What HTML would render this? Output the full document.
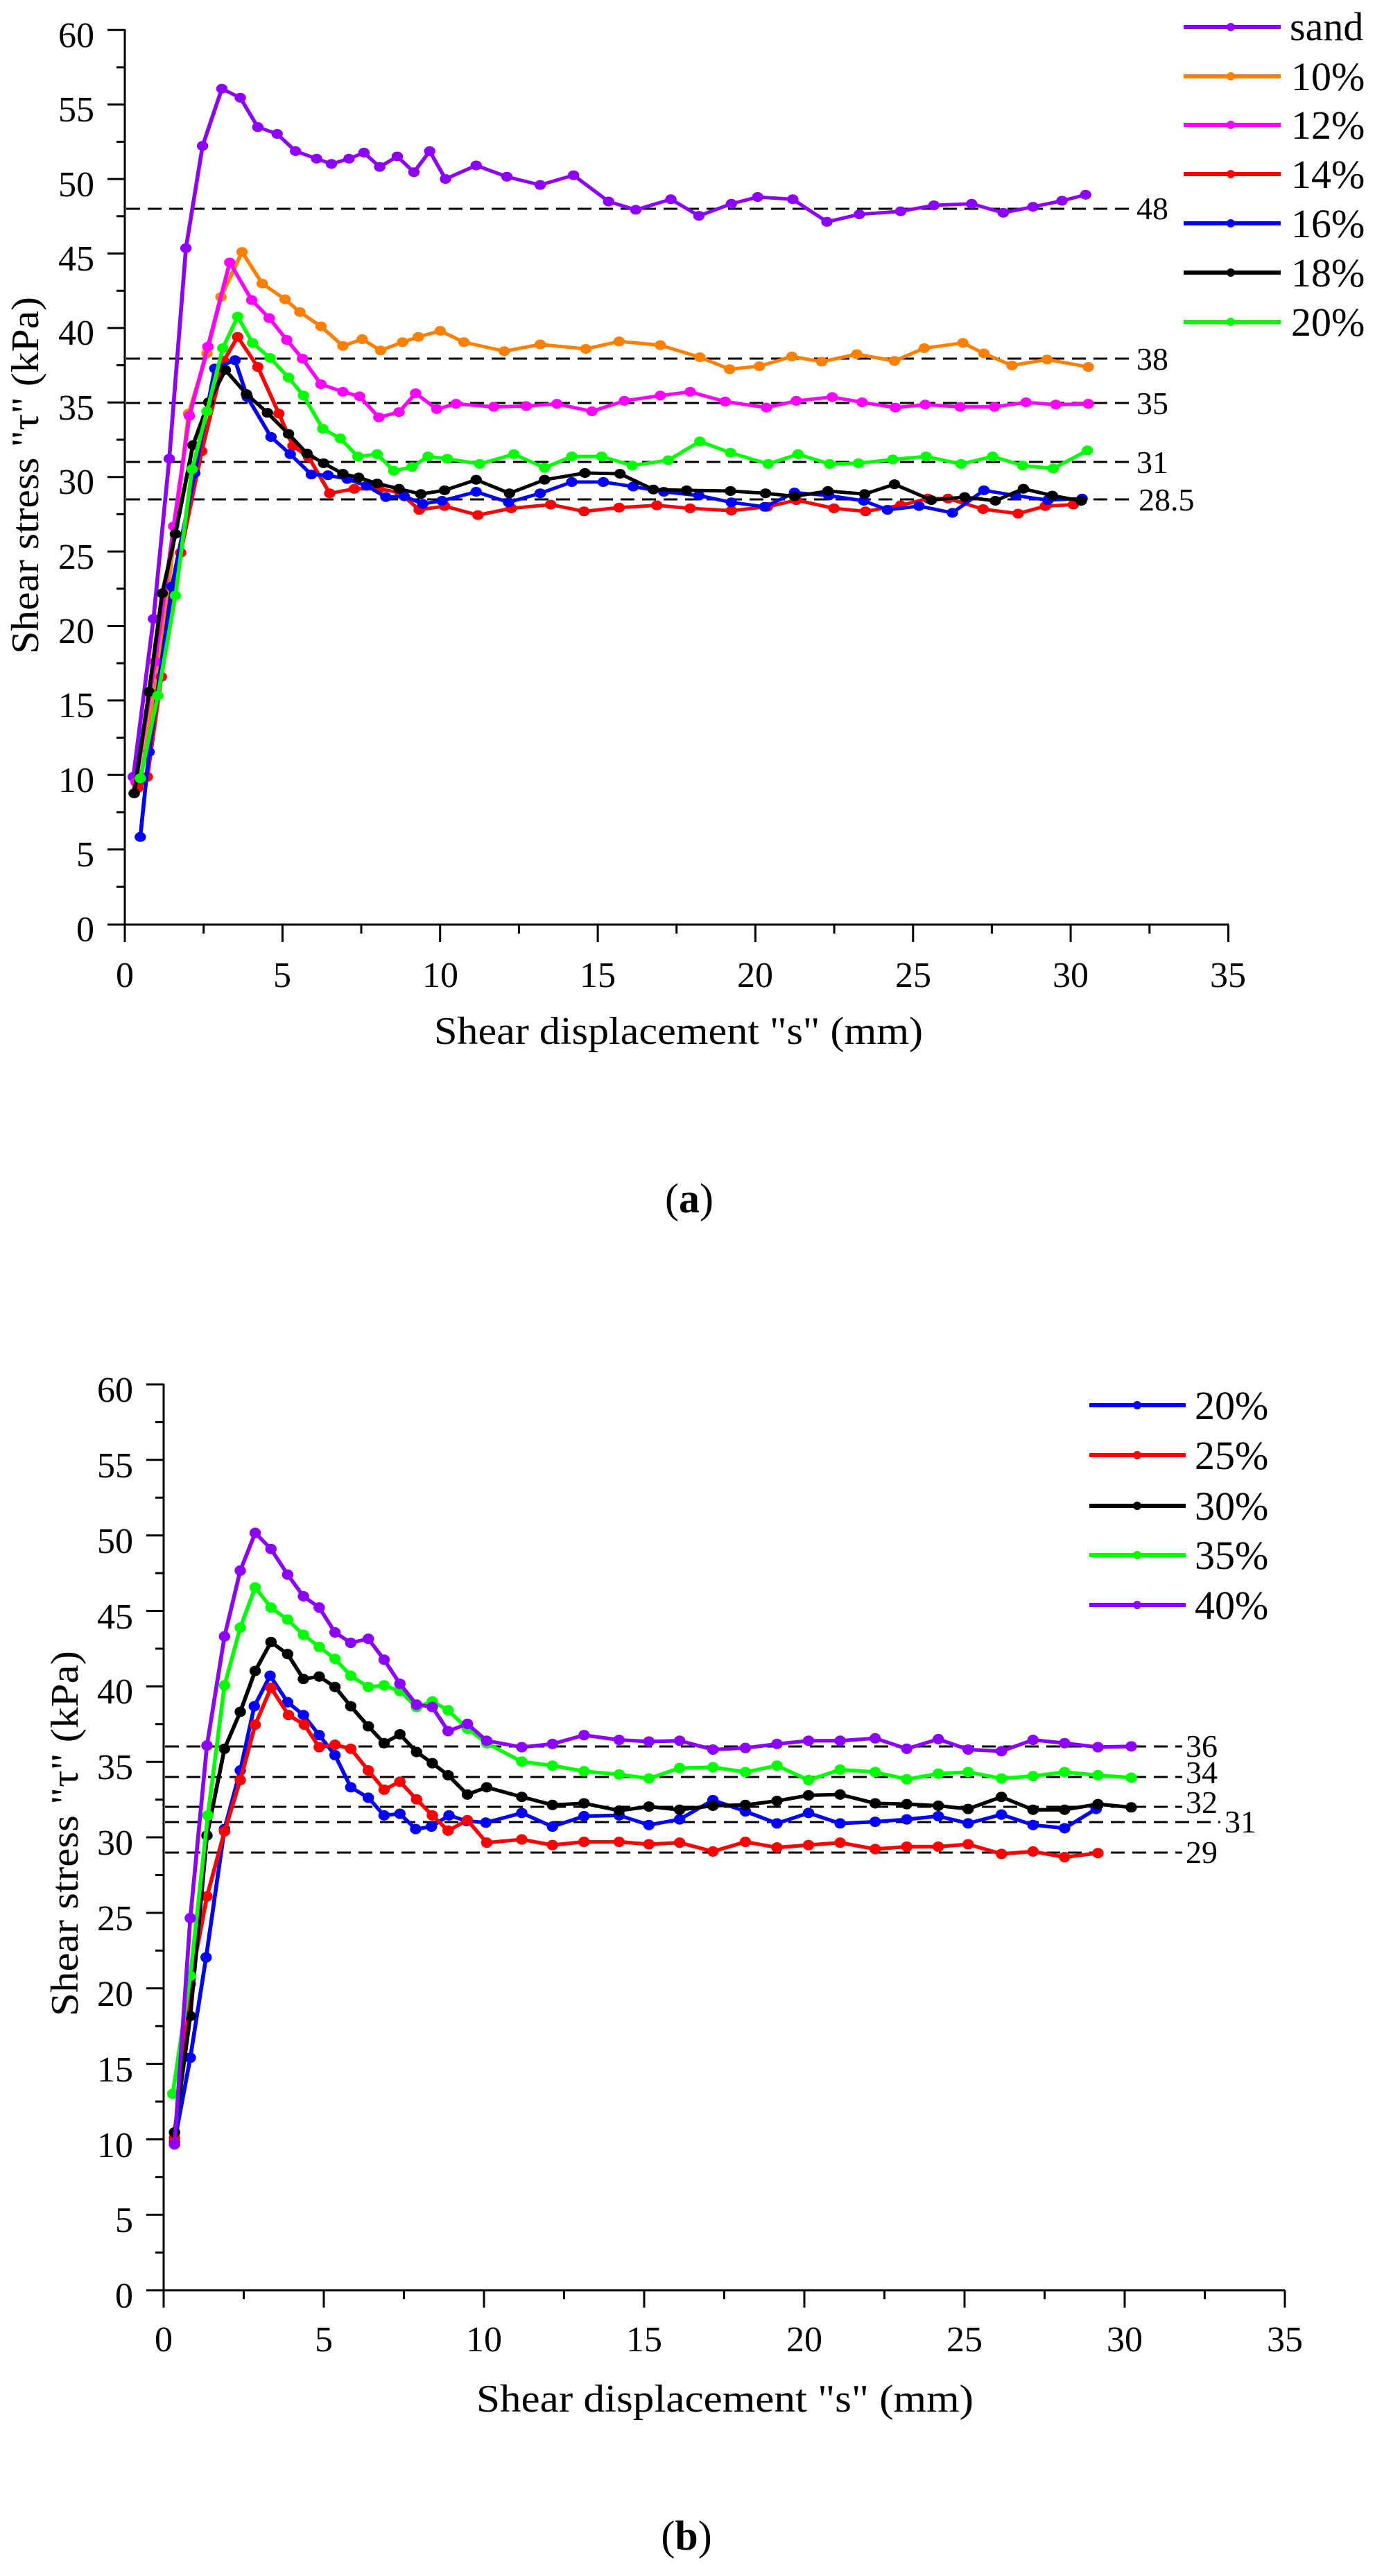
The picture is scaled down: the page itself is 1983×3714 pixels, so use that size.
<!DOCTYPE html>
<html><head><meta charset="utf-8"><style>
html,body{margin:0;padding:0;background:#fff}
svg{display:block}
svg text{font-family:"Liberation Serif","DejaVu Serif",serif;fill:#000}
</style></head><body>
<svg width="1983" height="3714" viewBox="0 0 1983 3714" xmlns="http://www.w3.org/2000/svg" font-family="Liberation Serif, serif">
<defs>
<marker id="mP" markerUnits="userSpaceOnUse" markerWidth="16" markerHeight="16" refX="8" refY="8" viewBox="0 0 16 16"><circle cx="8" cy="8" r="6.5" fill="#8B00FF"/></marker>
<marker id="mO" markerUnits="userSpaceOnUse" markerWidth="16" markerHeight="16" refX="8" refY="8" viewBox="0 0 16 16"><circle cx="8" cy="8" r="6.5" fill="#FF8000"/></marker>
<marker id="mM" markerUnits="userSpaceOnUse" markerWidth="16" markerHeight="16" refX="8" refY="8" viewBox="0 0 16 16"><circle cx="8" cy="8" r="6.5" fill="#FF00FF"/></marker>
<marker id="mR" markerUnits="userSpaceOnUse" markerWidth="16" markerHeight="16" refX="8" refY="8" viewBox="0 0 16 16"><circle cx="8" cy="8" r="6.5" fill="#FF0000"/></marker>
<marker id="mB" markerUnits="userSpaceOnUse" markerWidth="16" markerHeight="16" refX="8" refY="8" viewBox="0 0 16 16"><circle cx="8" cy="8" r="6.5" fill="#0000FF"/></marker>
<marker id="mK" markerUnits="userSpaceOnUse" markerWidth="16" markerHeight="16" refX="8" refY="8" viewBox="0 0 16 16"><circle cx="8" cy="8" r="6.5" fill="#000"/></marker>
<marker id="mG" markerUnits="userSpaceOnUse" markerWidth="16" markerHeight="16" refX="8" refY="8" viewBox="0 0 16 16"><circle cx="8" cy="8" r="6.5" fill="#00FF00"/></marker>
</defs>

<!-- ================= CHART A ================= -->
<g stroke="#000" stroke-width="3" fill="none">
<line x1="180" y1="42" x2="180" y2="1333"/>
<line x1="155" y1="1333" x2="1772" y2="1333"/>
<path d="M155 43.3H180 M155 150.7H180 M155 258.1H180 M155 365.5H180 M155 472.9H180 M155 580.3H180 M155 687.7H180 M155 795.1H180 M155 902.5H180 M155 1009.9H180 M155 1117.3H180 M155 1224.7H180
M168 97H180 M168 204.4H180 M168 311.8H180 M168 419.2H180 M168 526.6H180 M168 634H180 M168 741.4H180 M168 848.8H180 M168 956.2H180 M168 1063.6H180 M168 1171H180 M168 1278.4H180"/>
<path d="M180 1333V1358 M407.4 1333V1358 M634.7 1333V1358 M862.1 1333V1358 M1089.4 1333V1358 M1316.8 1333V1358 M1544.1 1333V1358 M1771.5 1333V1358
M293.7 1333V1346 M521 1333V1346 M748.4 1333V1346 M975.7 1333V1346 M1203.1 1333V1346 M1430.4 1333V1346 M1657.8 1333V1346"/>
</g>
<g font-size="52" text-anchor="end" font-family="Liberation Serif, serif">
<text x="136" y="68">60</text><text x="136" y="175">55</text><text x="136" y="283">50</text><text x="136" y="390">45</text>
<text x="136" y="497">40</text><text x="136" y="605">35</text><text x="136" y="712">30</text><text x="136" y="820">25</text>
<text x="136" y="927">20</text><text x="136" y="1034">15</text><text x="136" y="1142">10</text><text x="136" y="1249">5</text><text x="136" y="1357">0</text>
</g>
<g font-size="52" text-anchor="middle" font-family="Liberation Serif, serif">
<text x="180" y="1423">0</text><text x="407" y="1423">5</text><text x="635" y="1423">10</text><text x="862" y="1423">15</text>
<text x="1089" y="1423">20</text><text x="1317" y="1423">25</text><text x="1544" y="1423">30</text><text x="1771" y="1423">35</text>
</g>
<text x="626" y="1505" font-size="56" font-family="Liberation Serif, serif" textLength="705" lengthAdjust="spacingAndGlyphs">Shear displacement "s" (mm)</text>
<text transform="translate(55,943) rotate(-90)" font-size="56" font-family="Liberation Serif, serif" textLength="515" lengthAdjust="spacingAndGlyphs">Shear stress "τ" (kPa)</text>

<g stroke="#000" stroke-width="3" stroke-dasharray="20,11" fill="none">
<line x1="182" y1="301" x2="1636" y2="301"/>
<line x1="182" y1="517" x2="1636" y2="517"/>
<line x1="182" y1="581" x2="1636" y2="581"/>
<line x1="182" y1="666" x2="1636" y2="666"/>
<line x1="182" y1="720" x2="1636" y2="720"/>
</g>
<g font-size="46" font-family="Liberation Serif, serif">
<text x="1639" y="316">48</text><text x="1639" y="533">38</text><text x="1639" y="597">35</text><text x="1639" y="682">31</text><text x="1642" y="736">28.5</text>
</g>

<g transform="matrix(1.2647 0 0 1.0842 0 0)" fill="none" stroke-width="4.5" stroke-linejoin="round">
<polyline stroke="#8B00FF" marker-start="url(#mP)" marker-mid="url(#mP)" marker-end="url(#mP)" points="152,1033 175,823 193,610 212,330 231,194 253,118 274,130 294,169 316,178 337,201 361,211 378,218 398,211 415,203 433,222 453,208 472,229 490,201 508,238 543,220 578,235 616,246 654,233 694,268 725,279 765,265 797,287 834,271 864,262 904,265 943,295 980,285 1027,281 1065,273 1108,271 1144,283 1178,275 1211,267 1238,259"/>
<polyline stroke="#FF8000" marker-start="url(#mO)" marker-mid="url(#mO)" marker-end="url(#mO)" points="160,1040 183,870 215,550 236,470 252,395 276,335 299,377 325,398 342,415 366,434 391,460 413,451 434,466 459,455 477,448 502,440 529,455 575,467 616,458 668,464 706,454 753,459 798,475 832,491 866,487 903,474 937,481 977,471 1020,480 1054,463 1098,456 1122,470 1154,486 1194,478 1241,488"/>
<polyline stroke="#FF00FF" marker-start="url(#mM)" marker-mid="url(#mM)" marker-end="url(#mM)" points="155,1040 177,880 198,700 216,553 237,461 262,349 287,399 307,423 327,452 345,477 366,511 391,521 410,527 432,555 455,548 474,523 498,544 520,537 563,541 600,540 635,537 675,547 712,533 753,526 787,521 827,534 874,542 908,533 949,528 983,535 1021,542 1055,538 1095,541 1134,541 1170,535 1204,538 1241,537"/>
<polyline stroke="#FF0000" marker-start="url(#mR)" marker-mid="url(#mR)" marker-end="url(#mR)" points="157,1048 168,1033 184,900 206,735 230,600 255,480 271,448 294,488 318,550 334,593 352,608 376,656 404,650 432,650 456,655 478,678 507,673 545,685 583,676 628,671 666,680 706,675 749,672 787,676 834,679 875,674 908,665 951,676 987,680 1027,672 1058,663 1081,663 1121,677 1161,683 1192,673 1224,671"/>
<polyline stroke="#0000FF" marker-start="url(#mB)" marker-mid="url(#mB)" marker-end="url(#mB)" points="160,1113 170,1000 196,780 222,629 245,490 268,479 282,528 309,581 331,604 355,631 374,632 396,637 418,646 440,661 461,660 482,670 504,666 543,654 580,668 616,656 652,641 688,641 722,647 757,654 797,659 834,668 872,674 906,655 945,659 985,666 1012,678 1048,673 1086,682 1122,652 1158,659 1195,665 1234,663"/>
<polyline stroke="#000" marker-start="url(#mK)" marker-mid="url(#mK)" marker-end="url(#mK)" points="153,1055 170,920 185,789 200,710 220,592 238,535 257,492 281,524 305,549 329,577 350,603 369,616 391,630 409,635 430,643 455,650 480,657 507,652 543,638 581,656 621,638 667,629 707,630 745,651 783,652 833,653 873,656 906,660 944,653 986,657 1020,644 1062,665 1100,661 1135,666 1167,650 1200,659 1233,666"/>
<polyline stroke="#00FF00" marker-start="url(#mG)" marker-mid="url(#mG)" marker-end="url(#mG)" points="160,1035 180,925 200,792 219,624 236,547 254,463 271,421 288,456 308,476 329,502 346,526 368,570 388,583 408,607 430,604 449,626 470,621 488,607 510,610 547,617 586,604 621,622 652,607 686,607 721,619 762,612 798,587 833,602 876,617 910,604 946,617 979,616 1018,611 1056,607 1096,617 1132,607 1166,619 1201,623 1240,599"/>
</g>

<g stroke-width="6">
<line x1="1707" y1="39" x2="1847" y2="39" stroke="#8B00FF"/><circle cx="1775" cy="39" r="6" fill="#8B00FF"/>
<line x1="1707" y1="110" x2="1847" y2="110" stroke="#FF8000"/><circle cx="1775" cy="110" r="6" fill="#FF8000"/>
<line x1="1707" y1="180" x2="1847" y2="180" stroke="#FF00FF"/><circle cx="1775" cy="180" r="6" fill="#FF00FF"/>
<line x1="1707" y1="251" x2="1847" y2="251" stroke="#FF0000"/><circle cx="1775" cy="251" r="6" fill="#FF0000"/>
<line x1="1707" y1="322" x2="1847" y2="322" stroke="#0000FF"/><circle cx="1775" cy="322" r="6" fill="#0000FF"/>
<line x1="1707" y1="393" x2="1847" y2="393" stroke="#000"/><circle cx="1775" cy="393" r="6" fill="#000"/>
<line x1="1707" y1="464" x2="1847" y2="464" stroke="#00FF00"/><circle cx="1775" cy="464" r="6" fill="#00FF00"/>
</g>
<g font-size="58" font-family="Liberation Serif, serif">
<text x="1860" y="58">sand</text><text x="1862" y="130">10%</text><text x="1862" y="200">12%</text><text x="1862" y="271">14%</text>
<text x="1862" y="342">16%</text><text x="1862" y="413">18%</text><text x="1862" y="484">20%</text>
</g>
<text x="994" y="1748" font-size="60" font-family="Liberation Serif, serif" text-anchor="middle">(<tspan font-weight="bold">a</tspan>)</text>

<!-- ================= CHART B ================= -->
<g stroke="#000" stroke-width="3" fill="none">
<line x1="236" y1="1995" x2="236" y2="3302"/>
<line x1="211" y1="3302" x2="1853" y2="3302"/>
<path d="M211 1996H236 M211 2104.8H236 M211 2213.7H236 M211 2322.5H236 M211 2431.4H236 M211 2540.2H236 M211 2649H236 M211 2757.9H236 M211 2866.7H236 M211 2975.6H236 M211 3084.4H236 M211 3193.2H236
M224 2050.4H236 M224 2159.3H236 M224 2268.1H236 M224 2377H236 M224 2485.8H236 M224 2594.6H236 M224 2703.5H236 M224 2812.3H236 M224 2921.2H236 M224 3030H236 M224 3138.8H236 M224 3247.7H236"/>
<path d="M236 3302V3327 M467 3302V3327 M698 3302V3327 M929 3302V3327 M1160 3302V3327 M1391 3302V3327 M1622 3302V3327 M1853 3302V3327
M351.5 3302V3315 M582.5 3302V3315 M813.5 3302V3315 M1044.5 3302V3315 M1275.5 3302V3315 M1506.5 3302V3315 M1737.5 3302V3315"/>
</g>
<g font-size="52" text-anchor="end" font-family="Liberation Serif, serif">
<text x="192" y="2021">60</text><text x="192" y="2130">55</text><text x="192" y="2239">50</text><text x="192" y="2348">45</text>
<text x="192" y="2456">40</text><text x="192" y="2565">35</text><text x="192" y="2674">30</text><text x="192" y="2783">25</text>
<text x="192" y="2892">20</text><text x="192" y="3001">15</text><text x="192" y="3110">10</text><text x="192" y="3218">5</text><text x="192" y="3327">0</text>
</g>
<g font-size="52" text-anchor="middle" font-family="Liberation Serif, serif">
<text x="236" y="3390">0</text><text x="467" y="3390">5</text><text x="698" y="3390">10</text><text x="929" y="3390">15</text>
<text x="1160" y="3390">20</text><text x="1391" y="3390">25</text><text x="1622" y="3390">30</text><text x="1853" y="3390">35</text>
</g>
<text x="687" y="3477" font-size="56" font-family="Liberation Serif, serif" textLength="717" lengthAdjust="spacingAndGlyphs">Shear displacement "s" (mm)</text>
<text transform="translate(112,2907) rotate(-90)" font-size="56" font-family="Liberation Serif, serif" textLength="527" lengthAdjust="spacingAndGlyphs">Shear stress "τ" (kPa)</text>

<g stroke="#000" stroke-width="3" stroke-dasharray="20,11" fill="none">
<line x1="238" y1="2518" x2="1705" y2="2518"/>
<line x1="238" y1="2562" x2="1705" y2="2562"/>
<line x1="238" y1="2605" x2="1705" y2="2605"/>
<line x1="238" y1="2627" x2="1760" y2="2627"/>
<line x1="238" y1="2671" x2="1705" y2="2671"/>
</g>
<g font-size="46" font-family="Liberation Serif, serif">
<text x="1710" y="2533">36</text><text x="1710" y="2571">34</text><text x="1710" y="2614">32</text><text x="1766" y="2642">31</text><text x="1710" y="2686">29</text>
</g>

<g transform="matrix(1.2647 0 0 1.157 0 1900)" fill="none" stroke-width="4.5" stroke-linejoin="round">
<polyline stroke="#0000FF" marker-start="url(#mB)" marker-mid="url(#mB)" marker-end="url(#mB)" points="199,1027 217,922 235,797 256,637 274,564 290,484 308,446 328,479 346,495 364,520 382,545 400,585 420,598 438,620 456,618 474,637 492,634 512,620 532,627 554,629 595,617 630,634 666,621 706,620 740,632 775,625 813,601 850,615 886,630 922,617 958,630 998,628 1034,625 1070,621 1104,630 1142,619 1178,632 1214,636 1250,612"/>
<polyline stroke="#FF0000" marker-start="url(#mR)" marker-mid="url(#mR)" marker-end="url(#mR)" points="199,1022 217,830 236,721 256,640 274,576 291,507 309,461 329,495 347,507 364,535 382,532 400,537 420,564 438,588 456,578 475,600 493,620 511,639 533,626 555,654 595,650 630,657 666,653 706,653 740,656 775,654 813,665 850,653 886,660 922,657 958,654 998,662 1034,659 1070,659 1104,656 1142,668 1178,665 1214,672 1252,667"/>
<polyline stroke="#000" marker-start="url(#mK)" marker-mid="url(#mK)" marker-end="url(#mK)" points="199,1015 217,870 236,645 256,537 274,491 291,440 309,404 328,419 346,450 364,447 382,460 400,484 420,509 438,530 456,519 475,541 493,555 511,570 533,594 555,585 595,597 630,607 666,605 706,614 740,609 775,613 813,608 850,607 886,602 922,595 958,594 998,605 1034,606 1070,608 1104,612 1142,597 1178,613 1214,613 1252,606 1290,610"/>
<polyline stroke="#00FF00" marker-start="url(#mG)" marker-mid="url(#mG)" marker-end="url(#mG)" points="197,967 217,820 237,620 256,458 274,386 291,336 309,361 328,376 346,395 364,410 382,425 400,446 420,460 438,458 456,465 475,485 493,478 511,489 533,512 555,530 595,553 630,558 666,565 706,569 740,574 775,561 813,560 850,566 886,558 922,576 958,563 998,566 1034,575 1070,568 1104,566 1142,574 1178,571 1214,566 1252,570 1290,573"/>
<polyline stroke="#8B00FF" marker-start="url(#mP)" marker-mid="url(#mP)" marker-end="url(#mP)" points="199,1030 217,748 236,533 256,397 274,315 291,268 309,288 328,320 346,347 364,361 382,392 400,405 420,400 438,426 456,456 475,482 493,485 511,515 533,506 555,527 595,535 630,531 666,520 706,526 740,528 775,527 813,538 850,536 886,531 922,527 958,527 998,524 1034,537 1070,525 1104,538 1142,540 1178,526 1214,530 1252,535 1290,534"/>
</g>

<g stroke-width="6">
<line x1="1571" y1="2026" x2="1710" y2="2026" stroke="#0000FF"/><circle cx="1640" cy="2026" r="6" fill="#0000FF"/>
<line x1="1571" y1="2098" x2="1710" y2="2098" stroke="#FF0000"/><circle cx="1640" cy="2098" r="6" fill="#FF0000"/>
<line x1="1571" y1="2171" x2="1710" y2="2171" stroke="#000"/><circle cx="1640" cy="2171" r="6" fill="#000"/>
<line x1="1571" y1="2242" x2="1710" y2="2242" stroke="#00FF00"/><circle cx="1640" cy="2242" r="6" fill="#00FF00"/>
<line x1="1571" y1="2314" x2="1710" y2="2314" stroke="#8B00FF"/><circle cx="1640" cy="2314" r="6" fill="#8B00FF"/>
</g>
<g font-size="58" font-family="Liberation Serif, serif">
<text x="1723" y="2046">20%</text><text x="1723" y="2118">25%</text><text x="1723" y="2191">30%</text><text x="1723" y="2262">35%</text><text x="1723" y="2334">40%</text>
</g>
<text x="990" y="3676" font-size="60" font-family="Liberation Serif, serif" text-anchor="middle">(<tspan font-weight="bold">b</tspan>)</text>
</svg>
</body></html>
